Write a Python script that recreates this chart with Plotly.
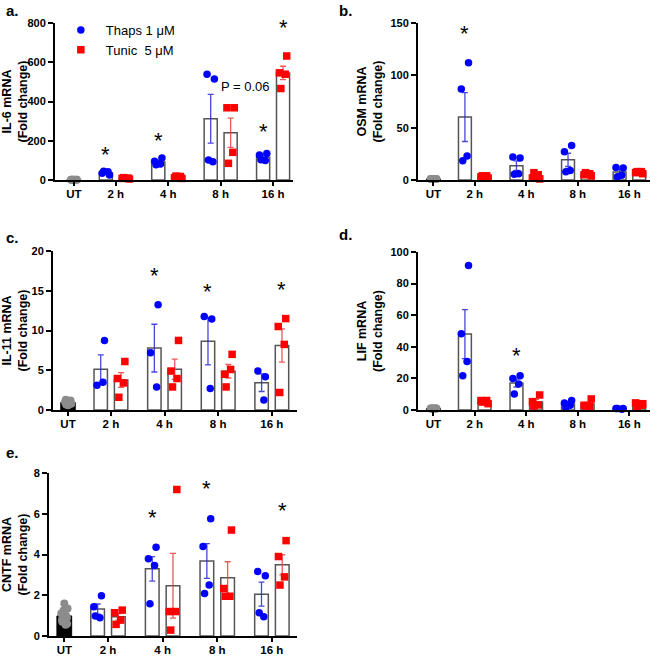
import plotly.graph_objects as go
import numpy as np

groups = ["UT", "2 h", "4 h", "8 h", "16 h"]
series_names = ["Thaps 1 μM", "Tunic  5 μM"]

# ---- Panel a: IL-6 ----
il6_ut = [1, 1, 1, 1, 1, 1, 1, 1]
il6_thaps = [[25, 35, 42, 45], [112, 95, 82, 78], [515, 539, 93, 102], [135, 128, 100, 103]]
il6_tunic = [[5, 8, 10, 12], [8, 12, 18, 20], [368, 368, 141, 85], [632, 546, 539, 466]]
il6_stars = [(1, 0, 150), (2, 0, 222), (4, 0, 265), (4, 1, 795)]

# ---- Panel b: OSM ----
osm_ut = [1, 1, 1, 1, 1, 1, 1, 1]
osm_thaps = [[112, 87, 23, 18.4], [21, 22, 6, 5.5], [33, 27, 9, 8], [11.5, 12, 4.5, 3]]
osm_tunic = [[2, 3, 4, 4], [1, 2, 5, 7], [4, 5, 6, 7], [6, 7, 8, 8]]
osm_stars = [(1, 0, 144)]

# ---- Panel c: IL-11 ----
il11_ut = [0.6, 0.8, 0.9, 1.0, 1.1, 1.2, 1.3, 0.7]
il11_thaps = [[8.75, 3.1, 3.5], [13.25, 7.2, 2.9], [11.45, 11.75, 2.7], [4.17, 4.9, 1.25]]
il11_tunic = [[6.1, 3.96, 3.4, 1.6], [8.75, 4.9, 3.96, 2.9], [7.0, 4.5, 5.1, 2.9], [11.5, 10.5, 8.25, 2.2]]
il11_stars = [(2, 0, 17.4), (3, 0, 15.4), (4, 1, 15.6)]

# ---- Panel d: LIF ----
lif_ut = [1, 1, 1, 1, 1, 1, 1, 1]
lif_thaps = [[91.5, 48.3, 30.7, 21.6], [21.6, 20, 16.5, 10.2], [6, 4.5, 3, 1.5], [1, 1, 0.5, 1]]
lif_tunic = [[4, 6, 6, 5], [9.5, 5.3, 3.2, 2.5], [7, 3, 2.5, 2.5], [4, 4.5, 3, 2]]
lif_stars = [(1, 0, 105), (2, 0, 37)]

# ---- Panel e: CNTF ----
cntf_ut = [1.6, 1.35, 1.25, 1.1, 1.0, 0.9, 0.8, 0.7, 0.6, 0.55]
cntf_thaps = [[1.98, 1.43, 0.9, 0.98], [4.36, 3.79, 3.46, 1.58], [5.76, 4.39, 2.5, 2.08], [2.96, 3.17, 0.94, 1.14]]
cntf_tunic = [[1.27, 1.14, 0.78, 0.57], [7.19, 1.2, 1.2, 0.29], [5.2, 2.33, 1.95, 1.95], [4.68, 3.9, 2.9, 2.5]]
cntf_stars = [(2, 0, 6.0), (3, 0, 7.45), (4, 1, 6.34)]

W = H = 657
FONT = "Liberation Sans, Arial, sans-serif"
BLUE = "#0000ff"
RED = "#ff0000"
GRAY = "#8c8c8c"

group_x = [0.0] + [0.8 + k for k in range(4)]
OFF = 0.19
BARW = 0.25

panels = [
    dict(key="a", title="IL-6 mRNA<br>(Fold change)", ut=il6_ut, th=il6_thaps, tu=il6_tunic, stars=il6_stars,
         yr=[0, 800], dtick=200, px=(55, 293), py=(23, 180), xr=[-0.36, 4.18]),
    dict(key="b", title="OSM mRNA<br>(Fold change)", ut=osm_ut, th=osm_thaps, tu=osm_tunic, stars=osm_stars,
         yr=[0, 150], dtick=50, px=(418, 650), py=(23, 180), xr=[-0.3, 4.2]),
    dict(key="c", title="IL-11 mRNA<br>(Fold change)", ut=il11_ut, th=il11_thaps, tu=il11_tunic, stars=il11_stars,
         yr=[0, 20], dtick=5, px=(53, 297), py=(251, 410), xr=[-0.28, 4.27]),
    dict(key="d", title="LIF mRNA<br>(Fold change)", ut=lif_ut, th=lif_thaps, tu=lif_tunic, stars=lif_stars,
         yr=[0, 100], dtick=20, px=(418, 650), py=(252, 410), xr=[-0.3, 4.2]),
    dict(key="e", title="CNTF mRNA<br>(Fold change)", ut=cntf_ut, th=cntf_thaps, tu=cntf_tunic, stars=cntf_stars,
         yr=[0, 8], dtick=2, px=(49, 297), py=(473, 636), xr=[-0.28, 4.26]),
]


def mean_sem(v):
    a = np.asarray(v, dtype=float)
    return a.mean(), (a.std(ddof=1) / np.sqrt(len(a)) if len(a) > 1 else 0.0)


def jitter(n, spread=0.07):
    return [(-1) ** i * spread * (0.6 if (i // 2) % 2 else 1.0) for i in range(n)]


fig = go.Figure()
layout = {}
annotations = []

for i, p in enumerate(panels):
    sfx = "" if i == 0 else str(i + 1)
    xa, ya = "x" + sfx, "y" + sfx
    # UT bar
    m_ut, _ = mean_sem(p["ut"])
    fig.add_trace(go.Bar(x=[group_x[0]], y=[m_ut], width=0.27, marker=dict(color="black", line=dict(color="black", width=1)),
                         xaxis=xa, yaxis=ya, showlegend=False, hoverinfo="skip"))
    for s, (vals, col, sym) in enumerate([(p["th"], BLUE, "circle"), (p["tu"], RED, "square")]):
        xs, ms, es = [], [], []
        for g in range(4):
            m, e = mean_sem(vals[g])
            xs.append(group_x[g + 1] + (-OFF if s == 0 else OFF))
            ms.append(m)
            es.append(e)
        ecol = "rgba(40,40,210,0.85)" if s == 0 else "rgba(235,60,60,0.85)"
        fig.add_trace(go.Bar(x=xs, y=ms, width=BARW,
                             marker=dict(color="white", line=dict(color="#555555", width=1.5)),
                             error_y=dict(type="data", array=es, visible=True, color=ecol, thickness=1.3, width=3),
                             xaxis=xa, yaxis=ya, showlegend=False, hoverinfo="skip"))
    # UT dots
    ut_off = [0.06 * np.sin(1.7 * k) for k in range(len(p["ut"]))]
    fig.add_trace(go.Scatter(x=[group_x[0] + o for o in ut_off], y=p["ut"], mode="markers",
                             marker=dict(color=GRAY, size=8, symbol="circle"), cliponaxis=False,
                             xaxis=xa, yaxis=ya, showlegend=False, hoverinfo="skip"))
    for s, (vals, col, sym) in enumerate([(p["th"], BLUE, "circle"), (p["tu"], RED, "square")]):
        px_, py_ = [], []
        for g in range(4):
            c = group_x[g + 1] + (-OFF if s == 0 else OFF)
            for v, o in zip(vals[g], jitter(len(vals[g]))):
                px_.append(c + o)
                py_.append(v)
        fig.add_trace(go.Scatter(x=px_, y=py_, mode="markers", name=series_names[s],
                                 marker=dict(color=col, size=7.5, symbol=sym), cliponaxis=False,
                                 xaxis=xa, yaxis=ya, showlegend=(i == 0), hoverinfo="skip"))
    # stars
    for (g, s, yv) in p["stars"]:
        annotations.append(dict(x=group_x[g] + (-OFF if s == 0 else OFF), y=yv, xref=xa, yref=ya, text="*",
                                showarrow=False, font=dict(family=FONT, size=22, color="black"),
                                yanchor="middle", yshift=-4))
    # axes
    x0, x1 = p["px"]
    y0, y1 = p["py"]
    layout["xaxis" + sfx] = dict(domain=[x0 / W, x1 / W], anchor=ya, range=p["xr"], tickvals=group_x, ticktext=groups,
                                 showline=True, linecolor="black", linewidth=2, ticks="outside", ticklen=4,
                                 tickwidth=2, tickcolor="black", showgrid=False, zeroline=False, automargin=False,
                                 ticklabelstandoff=-2,
                                 tickfont=dict(family=FONT, size=11.5, color="black", weight="bold"), fixedrange=True)
    layout["yaxis" + sfx] = dict(domain=[1 - y1 / H, 1 - y0 / H], anchor=xa, range=p["yr"], dtick=p["dtick"],
                                 showline=True, linecolor="black", linewidth=2, ticks="outside", ticklen=5,
                                 tickwidth=2, tickcolor="black", showgrid=False, zeroline=False, automargin=True,
                                 tickfont=dict(family=FONT, size=11, color="black", weight="bold"),
                                 title=dict(text=p["title"], font=dict(family=FONT, size=12.5, color="black", weight="bold"),
                                            standoff=5), fixedrange=True)

# panel letters
for letter, (lx, ly) in zip(["a.", "b.", "c.", "d.", "e."], [(4, 10), (337, 10), (4, 237), (337, 235), (4, 452)]):
    annotations.append(dict(x=lx / W, y=1 - ly / H, xref="paper", yref="paper", text=letter, showarrow=False,
                            xanchor="left", yanchor="middle", font=dict(family=FONT, size=15, color="black", weight="bold")))

# P value text
annotations.append(dict(x=group_x[3] + 0.47, y=478, xref="x", yref="y", text="P = 0.06", showarrow=False,
                        font=dict(family=FONT, size=13, color="black")))

fig.update_layout(
    width=W, height=H, margin=dict(l=0, r=0, t=0, b=0, autoexpand=False),
    paper_bgcolor="white", plot_bgcolor="white",
    barmode="overlay", showlegend=True,
    legend=dict(x=0.085, y=1 - 15 / H, xanchor="left", yanchor="top", bgcolor="rgba(0,0,0,0)",
                font=dict(family=FONT, size=13, color="black"), tracegroupgap=0, itemsizing="trace",
                itemwidth=40),
    annotations=annotations,
    **layout,
)

fig.write_html("out.html", config={"displayModeBar": False},
               post_script="document.body.style.margin='0';document.body.style.padding='0';")
